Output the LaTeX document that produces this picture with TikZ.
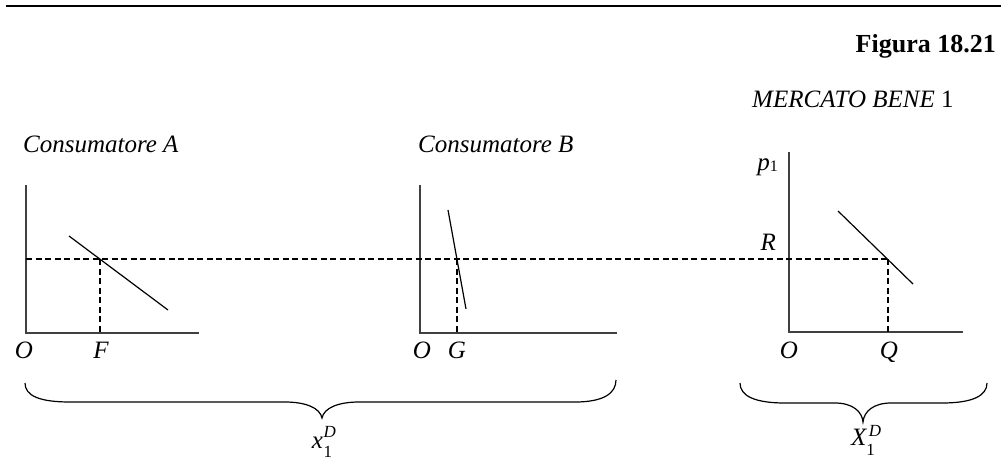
\documentclass[tikz,border=0pt]{standalone}
\usepackage{fontspec}
\setmainfont{Liberation Serif}
\begin{document}
\begin{tikzpicture}[x=1pt,y=-1pt,
  axisline/.style={line width=1.8pt, draw=black!75},
  demand/.style={line width=1.2pt},
  guide/.style={line width=1.1pt, dash pattern=on 6pt off 3.5pt},
  bracepath/.style={line width=1.2pt},
  lbl/.style={font=\fontsize{25}{30}\selectfont\itshape, inner sep=0pt},
  small/.style={font=\fontsize{17}{17}\selectfont}
]
\useasboundingbox (0,0) rectangle (1001,464);
% top rule
\coordinate (ruleL) at (6,6);
\coordinate (ruleR) at (1001,6);
\draw[line width=1.5pt] (ruleL) -- (ruleR);
\node[font=\fontsize{26}{30}\selectfont\bfseries, anchor=base east, inner sep=0pt] (fig) at (996,52) {Figura 18.21};

% titles
\node[lbl, anchor=base west] (tA) at (23,152) {Consumatore A};
\node[lbl, anchor=base west] (tB) at (418,152) {Consumatore B};
\node[lbl, anchor=base west] (tM) at (752,107) {MERCATO BENE \upshape 1};

% Panel A
\coordinate (Atop) at (26,185);
\coordinate (AO) at (26,333);
\coordinate (Aend) at (199,333);
\draw[axisline] (Atop) -- (AO) -- (Aend);
\coordinate (Ad1) at (69,236);
\coordinate (Ad2) at (168,310);
\draw[demand] (Ad1) -- (Ad2);
\coordinate (Ap) at (100,259);
\coordinate (AF) at (100,333);
\draw[guide] (Ap) -- (AF);

% Panel B
\coordinate (Btop) at (420,185);
\coordinate (BO) at (420,333);
\coordinate (Bend) at (617,333);
\draw[axisline] (Btop) -- (BO) -- (Bend);
\coordinate (Bd1) at (448,210);
\coordinate (Bd2) at (466,309);
\draw[demand] (Bd1) -- (Bd2);
\coordinate (Bp) at (457,259);
\coordinate (BG) at (457,333);
\draw[guide] (Bp) -- (BG);

% Market
\coordinate (Mtop) at (789,152);
\coordinate (MO) at (789,332);
\coordinate (Mend) at (963,332);
\draw[axisline] (Mtop) -- (MO) -- (Mend);
\coordinate (Md1) at (838,211);
\coordinate (Md2) at (913,284);
\draw[demand] (Md1) -- (Md2);
\coordinate (Mp) at (888,259);
\coordinate (MQ) at (888,332);
\draw[guide] (Mp) -- (MQ);

% horizontal price line
\coordinate (Ay) at (26,259);
\draw[guide] (Ay) -- (Mp);

% axis labels
\node[lbl, anchor=base] (OA) at (24,358) {O};
\node[lbl, anchor=base] (F) at (101,358) {F};
\node[lbl, anchor=base] (OB) at (422,358) {O};
\node[lbl, anchor=base] (G) at (457,358) {G};
\node[lbl, anchor=base] (OM) at (789,358) {O};
\node[lbl, anchor=base] (Q) at (889,358) {Q};
\node[lbl, anchor=base east] (p1) at (778,170) {p\raisebox{-1pt}{\upshape\fontsize{16}{16}\selectfont 1}};
\node[lbl, anchor=base east] (R) at (776,250) {R};

% braces
\draw[bracepath] (25,383) .. controls (25,396) and (40,402) .. (70,402)
  -- (285,402) .. controls (306,402) and (320,408) .. (322,418)
  .. controls (324,408) and (338,402) .. (359,402)
  -- (575,402) .. controls (604,402) and (616,393) .. (616,380);
\draw[bracepath] (740,383) .. controls (740,396) and (755,403) .. (785,403)
  -- (835,403) .. controls (852,403) and (862,411) .. (863,422)
  .. controls (864,411) and (874,403) .. (891,403)
  -- (942,403) .. controls (972,403) and (987,396) .. (987,383);

\node[lbl, anchor=base] (xD) at (322,448) {x\kern0.5pt\rlap{\raisebox{11pt}{\fontsize{17}{17}\selectfont D}}\raisebox{-9pt}{\upshape\fontsize{17}{17}\selectfont 1}};
\node[lbl, anchor=base] (XD) at (863,445) {X\rlap{\kern2.5pt\raisebox{9pt}{\fontsize{17}{17}\selectfont D}}\raisebox{-10pt}{\upshape\fontsize{17}{17}\selectfont 1}};
\end{tikzpicture}
\end{document}
